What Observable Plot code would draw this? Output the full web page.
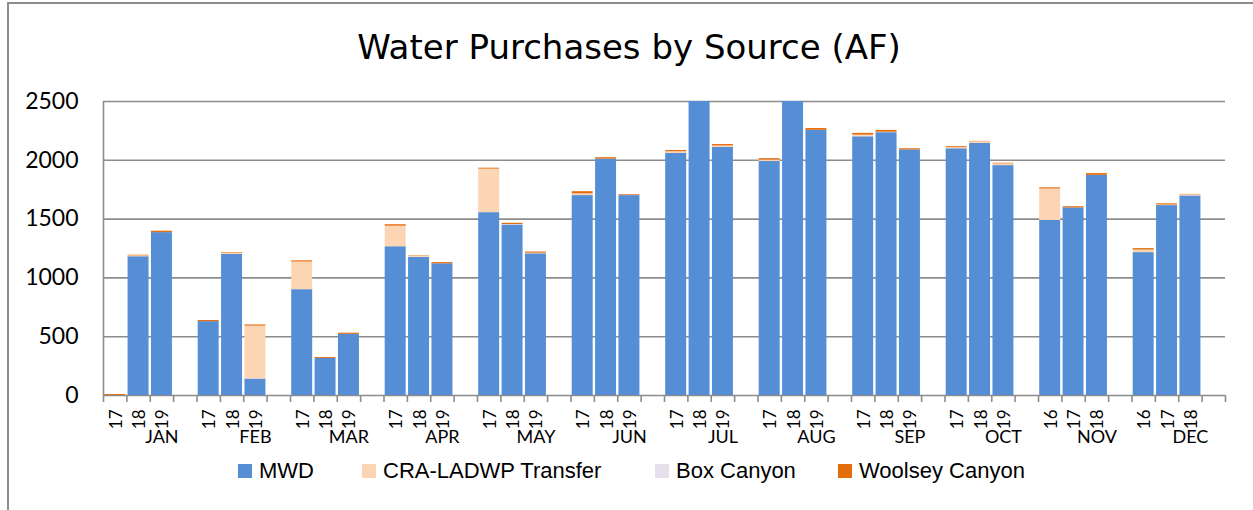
<!DOCTYPE html>
<html>
<head>
<meta charset="utf-8">
<script src="https://cdn.jsdelivr.net/npm/d3@7"></script>
<script src="https://cdn.jsdelivr.net/npm/@observablehq/plot@0.6"></script>
<style>
  html, body { margin: 0; padding: 0; background: #fff; }
  body { width: 1253px; height: 510px; position: relative; overflow: hidden; font-family: Lato, "Liberation Sans", sans-serif; }
  #frame { position: absolute; left: 7px; top: 2px; width: 1300px; height: 600px; border: 2px solid #8c8c8c; box-sizing: border-box; pointer-events: none; }
  #title { position: absolute; left: 0; width: 1258px; top: 27px; text-align: center; font-family: "DejaVu Sans", sans-serif; font-size: 34px; color: #000; white-space: nowrap; }
  #chart { position: absolute; left: 0; top: 0; }
  #legend { position: absolute; left: 0; top: 458px; width: 1253px; height: 30px; font-family: "Liberation Sans", Arial, sans-serif; font-size: 22px; color: #000; white-space: nowrap; }
  .item { position: absolute; top: 0; display: flex; align-items: center; gap: 7px; }
  .sw { width: 14px; height: 14px; display: inline-block; }
</style>
</head>
<body>
<div id="chart"></div>
<div id="title">Water Purchases by Source (AF)</div>
<div id="legend"></div>
<div id="frame"></div>
<script>
// ---- data ----
const months = ["JAN","FEB","MAR","APR","MAY","JUN","JUL","AUG","SEP","OCT","NOV","DEC"];
const yearLabels = [
  ["17","18","19"],["17","18","19"],["17","18","19"],["17","18","19"],
  ["17","18","19"],["17","18","19"],["17","18","19"],["17","18","19"],
  ["17","18","19"],["17","18","19"],["16","17","18"],["16","17","18"]
];
const sources = ["MWD","CRA-LADWP Transfer","Box Canyon","Woolsey Canyon"];
const colors = ["#558ed5","#fcd5b5","#e6e0ec","#e46c0a"];
const mwd = [0,1180,1385, 628,1200,140, 900,315,520, 1265,1175,1120,
             1555,1450,1205, 1700,2010,1700, 2058,2620,2110, 1990,2650,2255,
             2200,2235,2088, 2098,2143,1955, 1488,1595,1872, 1215,1615,1697];
const cra = [0,8,0, 0,10,450, 235,0,0, 175,12,0,
             370,0,5, 15,0,3, 15,0,12, 12,0,0,
             10,0,0, 10,15,15, 268,0,0, 22,5,10];
const boxCanyon = [0,0,0, 0,0,0, 0,0,0, 0,0,0,
                   0,4,0, 0,0,0, 0,0,0, 0,0,0,
                   4,4,0, 0,0,0, 0,0,0, 0,0,0];
const woolsey = [8,5,12, 10,5,10, 10,8,10, 12,3,10,
                 8,10,10, 18,12,6, 10,0,12, 12,0,15,
                 15,15,10, 8,3,5, 10,10,15, 12,10,3];
const yTicks = [0,500,1000,1500,2000,2500];
const legendLeft = [238, 362, 655, 838];

// ---- build table ----
const series = [mwd, cra, boxCanyon, woolsey];
const rows = [];
const yearRows = [];
months.forEach((m, mi) => {
  yearLabels[mi].forEach((yl, k) => {
    const idx = mi * 3 + k;
    const slot = mi * 4 + k;
    yearRows.push({slot: slot + 0.5, label: yl});
    sources.forEach((s, si) => {
      rows.push({x1: slot, x2: slot + 1, source: s, value: series[si][idx]});
    });
  });
});
const monthRows = months.map((m, mi) => ({slot: mi * 4 + 2.5, label: m}));
const slotBounds = d3.range(0, months.length * 4 + 1);

const grid = "#8c8c8c";
const plot = Plot.plot({
  width: 1253,
  height: 450,
  marginTop: 101,
  marginBottom: 55,
  marginLeft: 103,
  marginRight: 28,
  style: {fontFamily: "Lato, 'Liberation Sans', sans-serif", color: "#000", background: "transparent", overflow: "visible"},
  x: {domain: [0, months.length * 4], axis: null},
  y: {domain: [0, 2500], axis: null},
  color: {domain: sources, range: colors},
  marks: [
    Plot.ruleY(yTicks, {stroke: grid, strokeWidth: 1.6}),
    Plot.rectY(rows, Plot.stackY({x1: "x1", x2: "x2", y: "value", fill: "source", order: sources, insetLeft: 1.2, insetRight: 1.2, clip: true})),
    Plot.ruleX([0], {stroke: grid, strokeWidth: 1.6}),
    Plot.axisX({ticks: slotBounds, tickSize: 7, tickFormat: () => "", label: null, stroke: grid, strokeWidth: 1.6}),
    Plot.axisY({ticks: yTicks, tickSize: 0, tickPadding: 25, tickFormat: d => String(d), label: null, fontSize: 23}),
    Plot.text(yearRows, {x: "slot", y: () => 0, text: "label", rotate: -90, textAnchor: "end", lineAnchor: "middle", dy: 14, dx: 1, fontSize: 17, fill: "#000"}),
    Plot.text(monthRows, {x: "slot", y: () => 0, text: "label", lineAnchor: "middle", dy: 42, fontSize: 18, fill: "#000"})
  ]
});
document.getElementById("chart").appendChild(plot);

const legend = document.getElementById("legend");
sources.forEach((s, i) => {
  const it = document.createElement("div");
  it.className = "item";
  it.style.left = legendLeft[i] + "px";
  const sw = document.createElement("span");
  sw.className = "sw";
  sw.style.background = colors[i];
  const t = document.createElement("span");
  t.textContent = s;
  it.appendChild(sw); it.appendChild(t);
  legend.appendChild(it);
});
</script>
</body>
</html>
